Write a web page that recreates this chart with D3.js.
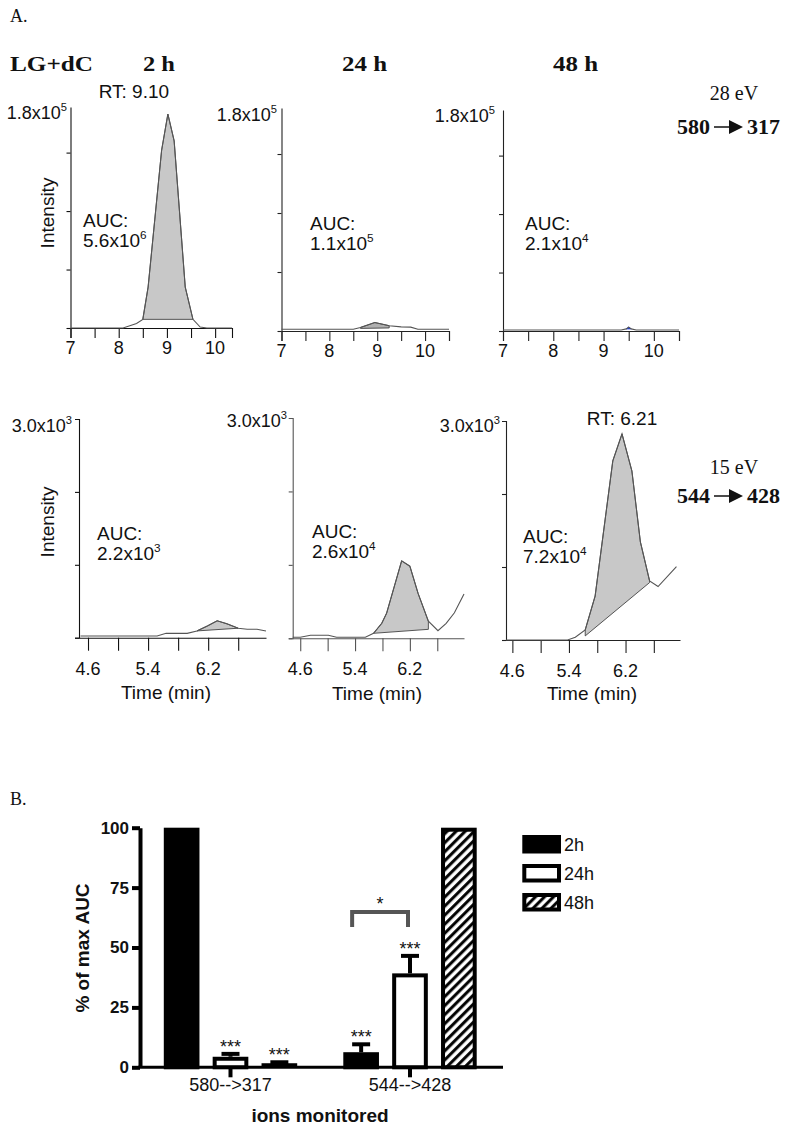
<!DOCTYPE html>
<html><head><meta charset="utf-8">
<script src="https://cdn.jsdelivr.net/npm/d3@7"></script>
<style>
body{margin:0;background:#fff}
text{font-family:Arial,"Liberation Sans",sans-serif;fill:#111}
.serif{font-family:"Liberation Serif","Times New Roman",serif}
</style>
</head><body>
<svg id="c" width="800" height="1129" xmlns="http://www.w3.org/2000/svg"></svg>
<script>
// ---------------- DATA ----------------
const timepoints = ["2 h", "24 h", "48 h"];
const sampleLabel = "LG+dC";
const transitions = [
  {ev: "28 eV", from: "580", to: "317"},
  {ev: "15 eV", from: "544", to: "428"}
];
// top row (580 -> 317), time in min, intensity in counts
const p1Time = [7, 8.09, 8.37, 8.5, 8.61, 8.89, 9.02, 9.15, 9.38, 9.54, 9.69, 9.83, 10.35];
const p1Int  = [0, 0, 3800, 7400, 35000, 152000, 183000, 160000, 35000, 7400, 850, 0, 0];
const p2Time = [7, 8.5, 8.65, 8.95, 9.25, 9.5, 9.7, 9.85, 10.5];
const p2Int  = [1500, 1500, 3000, 7200, 4500, 3500, 3300, 1500, 1500];
const p3Time = [7, 9.35, 9.45, 9.5, 9.55, 9.65, 10.5];
const p3Int  = [900, 900, 1800, 3300, 1800, 900, 900];
// bottom row (544 -> 428)
const p4Time = [4.50, 5.52, 5.64, 5.92, 6.05, 6.19, 6.32, 6.45, 6.60, 6.72, 6.85, 6.97];
const p4Int  = [24, 24, 60, 60, 93, 162, 232, 190, 130, 116, 116, 93];
const p5Time = [4.49, 4.60, 4.75, 5.01, 5.13, 5.55, 5.67, 5.79, 5.86, 6.08, 6.20, 6.32, 6.47, 6.61, 6.73, 6.85, 6.99];
const p5Int  = [14, 14, 41, 41, 14, 14, 68, 204, 340, 1054, 982, 611, 232, 103, 204, 348, 602];
const p6Time = [4.51, 5.38, 5.49, 5.63, 5.77, 6.02, 6.15, 6.29, 6.41, 6.54, 6.66, 6.92];
const p6Int  = [0, 0, 37, 139, 602, 2454, 2824, 2315, 1343, 810, 732, 1004];

const topAUC = [["5.6", "6"], ["1.1", "5"], ["2.1", "4"]];
const bottomAUC = [["2.2", "3"], ["2.6", "4"], ["7.2", "4"]];
const topRT = ["RT: 9.10", null, null];
const bottomRT = [null, null, "RT: 6.21"];
const topYMax = 1.89e5, topYLabel = ["1.8", "5"];
const bottomYMax = 3000, bottomYLabel = ["3.0", "3"];
const topYTicks = [0, 5e4, 1e5, 1.5e5];
const bottomYTicks = [0, 1000, 2000];
const topXTicks = [7, 7.5, 8, 8.5, 9, 9.5, 10, 10.5];
const topXLabels = [7, 8, 9, 10];
const bottomXTicks = [4.6, 5.0, 5.4, 5.8, 6.2, 6.6];
const bottomXLabels = ["4.6", "5.4", "6.2"];

// bar chart (B)
const ions = ["580-->317", "544-->428"];
const hours = ["2h", "24h", "48h"];
const pct2h  = [100, 6.3];
const err2h  = [0, 3.3];
const pct24h = [4.4, 39.2];
const err24h = [1.2, 7.3];
const pct48h = [1.7, 100];
const err48h = [0.4, 0];
const barYTicks = [0, 25, 50, 75, 100];
const starMarks = [
  {ion: 0, hour: "24h", label: "***"},
  {ion: 0, hour: "48h", label: "***"},
  {ion: 1, hour: "2h", label: "***"},
  {ion: 1, hour: "24h", label: "***"}
];

// ---------------- LAYOUT ----------------
const svg = d3.select("#c");

function supText(g, x, y, base, exp, anchor, size) {
  const t = g.append("text").attr("x", x).attr("y", y)
    .attr("text-anchor", anchor).attr("font-size", size);
  t.append("tspan").text(base);
  t.append("tspan").attr("dy", -size * 0.42).attr("font-size", size * 0.62).text(exp);
  return t;
}

const panels = [
  {time: p1Time, int: p1Int, shade: {i0: 3, i1: 9, b0: 7400, b1: 7400}, fill: "#c8c8c8",
   x0: 70.5, x1: 232, xd: [7, 10.35], yTop: 107, yBase: 328, row: 0, col: 0, ax: "#111",
   ylab: [67, 119], auc: [83, 227], intensity: [47, 213]},
  {time: p2Time, int: p2Int, shade: {i0: 2, i1: 4, b0: 2200, b1: 2600}, fill: "#b0b0b0",
   x0: 281.5, x1: 449, xd: [7, 10.5], yTop: 108, yBase: 331, row: 0, col: 1, ax: "#222",
   ylab: [277, 121], auc: [310, 230]},
  {time: p3Time, int: p3Int, shade: {i0: 2, i1: 4, b0: 1800, b1: 1800}, fill: "#1f3fd6", shadeStroke: "#1f3fd6",
   x0: 503, x1: 679, xd: [7, 10.5], yTop: 110, yBase: 331, row: 0, col: 2, ax: "#222",
   ylab: [495, 122], auc: [525, 230]},
  {time: p4Time, int: p4Int, shade: {i0: 4, i1: 8, b0: 93, b1: 130}, fill: "#c8c8c8",
   x0: 79, x1: 266, xd: [4.48, 6.97], yTop: 419, yBase: 637.7, row: 1, col: 0, ax: "#111",
   ylab: [72, 432], auc: [97, 540], intensity: [47, 522], timeLab: [166, 699]},
  {time: p5Time, int: p5Int, shade: {i0: 6, i1: 12, b0: 68, b1: 122}, fill: "#c8c8c8",
   x0: 292.7, x1: 464, xd: [4.49, 6.99], yTop: 418, yBase: 638.3, row: 1, col: 1, ax: "#555",
   ylab: [287, 427], auc: [312, 538], timeLab: [377, 700]},
  {time: p6Time, int: p6Int, shade: {i0: 3, i1: 9, b0: 56, b1: 787}, fill: "#c8c8c8",
   x0: 506, x1: 680, xd: [4.51, 6.97], yTop: 421, yBase: 640, row: 1, col: 2, ax: "#222",
   ylab: [500, 432], auc: [523, 543], timeLab: [592, 700]}
];

panels.forEach(p => {
  const g = svg.append("g");
  const ymax = p.row === 0 ? topYMax : bottomYMax;
  const x = d3.scaleLinear(p.xd, [p.x0, p.x1]);
  const y = d3.scaleLinear([0, ymax], [p.yBase, p.yTop]);

  const xTicks = (p.row === 0 ? topXTicks : bottomXTicks).filter(v => v >= p.xd[0] - 1e-9 && v <= p.xd[1] + 1e-9);
  const xa = g.append("g").attr("transform", `translate(0,${p.yBase})`)
    .call(d3.axisBottom(x).tickValues(xTicks).tickFormat("")
      .tickSize(p.row === 0 ? 10 : 13).tickSizeOuter(p.row === 0 ? 10 : 0));
  const ya = g.append("g").attr("transform", `translate(${p.x0},0)`)
    .call(d3.axisLeft(y).tickValues(p.row === 0 ? topYTicks : bottomYTicks).tickFormat("")
      .tickSize(4).tickSizeOuter(p.row === 0 ? 0 : 4));
  [xa, ya].forEach(a => { a.selectAll("path,line").attr("stroke", p.ax).attr("stroke-width", 1.1); });

  if (p.row === 0) {
    topXLabels.forEach(v => g.append("text").attr("x", x(v)).attr("y", p.yBase + 26)
      .attr("text-anchor", "middle").attr("font-size", 18).text(v));
  } else {
    bottomXLabels.forEach(v => g.append("text").attr("x", x(+v)).attr("y", p.yBase + 37)
      .attr("text-anchor", "middle").attr("font-size", 18).text(v));
  }

  const s = p.shade;
  const pts = [];
  for (let i = s.i0; i <= s.i1; i++) pts.push([p.time[i], p.int[i]]);
  pts.push([p.time[s.i1], s.b1]);
  pts.push([p.time[s.i0], s.b0]);
  g.append("path").attr("d", d3.line().x(d => x(d[0])).y(d => y(d[1]))(pts) + "Z")
    .attr("fill", p.fill).attr("stroke", p.shadeStroke || "#444").attr("stroke-width", 0.9);

  g.append("path").attr("d", d3.line().x((d, i) => x(p.time[i])).y(d => y(d))(p.int))
    .attr("fill", "none").attr("stroke", "#555").attr("stroke-width", 1.1);

  const yl = p.row === 0 ? topYLabel : bottomYLabel;
  supText(g, p.ylab[0], p.ylab[1], yl[0] + "x10", yl[1], "end", 18);
  const auc = (p.row === 0 ? topAUC : bottomAUC)[p.col];
  g.append("text").attr("x", p.auc[0]).attr("y", p.auc[1]).attr("font-size", 19).text("AUC:");
  supText(g, p.auc[0], p.auc[1] + 20, auc[0] + "x10", auc[1], "start", 19);
  const rt = (p.row === 0 ? topRT : bottomRT)[p.col];
  if (rt) {
    const px = x(p.time[p.int.indexOf(d3.max(p.int))]);
    g.append("text").attr("x", px - (p.row === 0 ? 34 : 0)).attr("y", p.row === 0 ? 98 : 425)
      .attr("text-anchor", "middle").attr("font-size", 19).text(rt);
  }
  if (p.intensity) {
    g.append("text").attr("transform", `translate(${p.intensity[0]},${p.intensity[1]}) rotate(-90)`)
      .attr("text-anchor", "middle").attr("dominant-baseline", "central").attr("font-size", 19).text("Intensity");
  }
  if (p.timeLab) {
    g.append("text").attr("x", p.timeLab[0]).attr("y", p.timeLab[1])
      .attr("text-anchor", "middle").attr("font-size", 19).text("Time (min)");
  }
});

// headers
svg.append("text").attr("class", "serif").attr("x", 10).attr("y", 22).attr("font-size", 18).text("A.");
svg.append("text").attr("class", "serif").attr("x", 10).attr("y", 71).attr("font-size", 22)
  .attr("font-weight", "bold").attr("textLength", 83).attr("lengthAdjust", "spacingAndGlyphs").text(sampleLabel);
const headX = [159, 364.5, 575.5];
const headW = [32, 45, 45];
timepoints.forEach((t, i) => svg.append("text").attr("class", "serif").attr("x", headX[i] - headW[i] / 2).attr("y", 71)
  .attr("font-size", 22).attr("font-weight", "bold")
  .attr("textLength", headW[i]).attr("lengthAdjust", "spacingAndGlyphs").text(t));

// transition labels
const trPos = [{evY: 100, y: 134, x: 677}, {evY: 474, y: 503, x: 677}];
transitions.forEach((tr, i) => {
  const pos = trPos[i];
  svg.append("text").attr("class", "serif").attr("x", 734).attr("y", pos.evY)
    .attr("text-anchor", "middle").attr("font-size", 20).text(tr.ev);
  const a = svg.append("text").attr("class", "serif").attr("x", pos.x).attr("y", pos.y)
    .attr("font-size", 22).attr("font-weight", "bold").text(tr.from);
  const w = a.node().getComputedTextLength();
  const ax0 = pos.x + w + 4, ax1 = ax0 + 29, cy = pos.y - 7;
  svg.append("line").attr("x1", ax0).attr("x2", ax1 - 12).attr("y1", cy).attr("y2", cy)
    .attr("stroke", "#111").attr("stroke-width", 1.5);
  svg.append("path").attr("d", `M${ax1 - 14},${cy - 7}L${ax1},${cy}L${ax1 - 14},${cy + 7}Z`).attr("fill", "#111");
  svg.append("text").attr("class", "serif").attr("x", ax1 + 4).attr("y", pos.y)
    .attr("font-size", 22).attr("font-weight", "bold").text(tr.to);
});

// ---------------- BAR CHART ----------------
svg.append("text").attr("class", "serif").attr("x", 10).attr("y", 805).attr("font-size", 18).text("B.");
const defs = svg.append("defs");
const pat = defs.append("pattern").attr("id", "hatch").attr("patternUnits", "userSpaceOnUse")
  .attr("width", 6.4).attr("height", 6.4).attr("patternTransform", "rotate(45)");
pat.append("rect").attr("width", 6.4).attr("height", 6.4).attr("fill", "#fff");
pat.append("line").attr("x1", 1.6).attr("x2", 1.6).attr("y1", 0).attr("y2", 6.4)
  .attr("stroke", "#000").attr("stroke-width", 3);

const yB = d3.scaleLinear([0, 100], [1067.3, 827.7]);
const xG = d3.scalePoint(ions, [230.5, 410]);
const xS = d3.scaleBand(hours, [-66.7, 66.7]).paddingInner(0.27).paddingOuter(0);
const fills = {"2h": "#000", "24h": "#fff", "48h": "url(#hatch)"};
const vals = {"2h": pct2h, "24h": pct24h, "48h": pct48h};
const errs = {"2h": err2h, "24h": err24h, "48h": err48h};
const bars = [];
ions.forEach((ion, i) => hours.forEach(h => bars.push({ion, i, h, v: vals[h][i], e: errs[h][i]})));

const bg = svg.append("g");
bars.filter(b => b.e > 0).forEach(b => {
  const cx = xG(b.ion) + xS(b.h) + xS.bandwidth() / 2;
  bg.append("line").attr("x1", cx).attr("x2", cx).attr("y1", yB(b.v)).attr("y2", yB(b.v + b.e))
    .attr("stroke", "#000").attr("stroke-width", 4);
  bg.append("line").attr("x1", cx - 9).attr("x2", cx + 9).attr("y1", yB(b.v + b.e)).attr("y2", yB(b.v + b.e))
    .attr("stroke", "#000").attr("stroke-width", 4);
});
bars.forEach(b => {
  const x0 = xG(b.ion) + xS(b.h), w = xS.bandwidth();
  const h = yB(0) - yB(b.v);
  if (h > 6) {
    bg.append("rect").attr("x", x0 + 2).attr("y", yB(b.v) + 2).attr("width", w - 4).attr("height", h - 2)
      .attr("fill", fills[b.h]).attr("stroke", "#000").attr("stroke-width", 4);
  } else {
    bg.append("rect").attr("x", x0).attr("y", yB(b.v)).attr("width", w).attr("height", h)
      .attr("fill", "#000");
  }
});

const yAx = svg.append("g").attr("transform", "translate(140,0)")
  .call(d3.axisLeft(yB).tickValues(barYTicks).tickSize(8).tickSizeOuter(0).tickPadding(3));
yAx.select(".domain").attr("stroke-width", 4).attr("stroke", "#000");
yAx.selectAll(".tick line").attr("stroke-width", 4).attr("stroke", "#000");
yAx.selectAll(".tick text").attr("font-size", 17).attr("font-weight", "bold").attr("fill", "#000")
  .attr("font-family", "Arial, 'Liberation Sans', sans-serif");
svg.append("line").attr("x1", 138).attr("x2", 503).attr("y1", yB(0)).attr("y2", yB(0))
  .attr("stroke", "#000").attr("stroke-width", 3);
ions.forEach(ion => {
  svg.append("line").attr("x1", xG(ion)).attr("x2", xG(ion)).attr("y1", yB(0)).attr("y2", yB(0) + 10)
    .attr("stroke", "#000").attr("stroke-width", 4);
  svg.append("text").attr("x", xG(ion)).attr("y", 1091).attr("text-anchor", "middle")
    .attr("font-size", 18).text(ion);
});
svg.append("text").attr("x", 320).attr("y", 1122).attr("text-anchor", "middle")
  .attr("font-size", 19).attr("font-weight", "bold").text("ions monitored");
svg.append("text").attr("transform", "translate(82,948) rotate(-90)").attr("text-anchor", "middle")
  .attr("dominant-baseline", "central").attr("font-size", 19).attr("font-weight", "bold").text("% of max AUC");

starMarks.forEach(m => {
  const ion = ions[m.ion];
  const cx = xG(ion) + xS(m.hour) + xS.bandwidth() / 2;
  const top = yB(vals[m.hour][m.ion] + errs[m.hour][m.ion]);
  svg.append("text").attr("x", cx).attr("y", top - 1).attr("text-anchor", "middle")
    .attr("font-size", 18).attr("fill", "#333").text(m.label);
});
{
  const xa = xG(ions[1]) + xS("2h") + xS.bandwidth() / 2 - 9;
  const xb = xG(ions[1]) + xS("24h") + xS.bandwidth() / 2 - 2;
  svg.append("path").attr("d", `M${xa},927L${xa},912L${xb},912L${xb},927`)
    .attr("fill", "none").attr("stroke", "#555").attr("stroke-width", 4);
  svg.append("text").attr("x", (xa + xb) / 2).attr("y", 910).attr("text-anchor", "middle")
    .attr("font-size", 18).attr("fill", "#333").text("*");
}

// legend
const lg = svg.append("g");
hours.forEach((h, i) => {
  const y0 = 835 + i * 29;
  lg.append("rect").attr("x", 524.3).attr("y", y0 + 2).attr("width", 34.7).attr("height", 14.5)
    .attr("fill", fills[h]).attr("stroke", "#000").attr("stroke-width", 4);
  lg.append("text").attr("x", 564).attr("y", y0 + 16).attr("font-size", 18).text(h);
});
</script>
</body></html>
